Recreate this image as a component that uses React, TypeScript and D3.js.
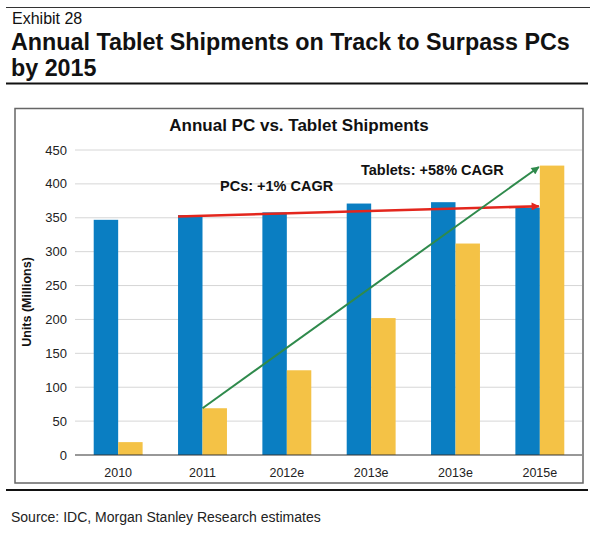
import React from 'react';
import * as d3 from 'd3';

const categories = ['2010', '2011', '2012e', '2013e', '2013e', '2015e'];
const pcShipments = [347, 354, 358, 371, 373, 365];
const tabletShipments = [19, 69, 125, 202, 312, 427];
const yTicks = [0, 50, 100, 150, 200, 250, 300, 350, 400, 450];
const series = ['PCs', 'Tablets'];
const seriesColors = ['#0A7EC2', '#F4C246'];

// trend arrows: start/end category index and value
const trendFromIndex = 1;
const trendToIndex = 5;
const pcTrend = [352, 367];
const tabletTrend = [69, 425];

const font = '"Liberation Sans", Arial, sans-serif';

const App = () => {
  const width = 590;
  const height = 536;
  const plot = { left: 76, right: 582, top: 150, bottom: 455 };

  const idx = categories.map((_, i) => i);
  const x = d3
    .scaleBand<number>()
    .domain(idx)
    .range([plot.left, plot.right])
    .paddingInner(0.42)
    .paddingOuter(0.21);

  const xSeries = d3
    .scaleBand<string>()
    .domain(series)
    .range([0, x.bandwidth()])
    .padding(0);

  const y = d3.scaleLinear().domain([0, 450]).range([plot.bottom, plot.top]);

  const values = [pcShipments, tabletShipments];
  const center = (i: number) => (x(i) ?? 0) + x.bandwidth() / 2;

  const line = d3
    .line<[number, number]>()
    .x((d) => d[0])
    .y((d) => y(d[1]));

  const redPts: [number, number][] = [
    [x(trendFromIndex) ?? 0, pcTrend[0]],
    [center(trendToIndex) - 1, pcTrend[1]],
  ];
  const greenPts: [number, number][] = [
    [center(trendFromIndex), tabletTrend[0]],
    [center(trendToIndex) - 1, tabletTrend[1]],
  ];

  return (
    <svg
      width={width}
      height={height}
      style={{ position: 'absolute', left: 0, top: 0, background: '#fff' }}
      fontFamily={font}
    >
      <defs>
        <marker
          id="arrRed"
          viewBox="0 0 10 10"
          refX="9"
          refY="5"
          markerWidth="9"
          markerHeight="8"
          markerUnits="userSpaceOnUse"
          orient="auto"
        >
          <path d="M0,0L10,5L0,10z" fill="#E3261D" />
        </marker>
        <marker
          id="arrGreen"
          viewBox="0 0 10 10"
          refX="9"
          refY="5"
          markerWidth="9"
          markerHeight="8"
          markerUnits="userSpaceOnUse"
          orient="auto"
        >
          <path d="M0,0L10,5L0,10z" fill="#2F8A4C" />
        </marker>
      </defs>

      {/* header */}
      <line x1={6} x2={590} y1={7.5} y2={7.5} stroke="#333" strokeWidth={1} />
      <text x={12} y={24} fontSize={16} fill="#111">
        Exhibit 28
      </text>
      <text x={11} y={50} fontSize={23.3} fontWeight="bold" fill="#111">
        Annual Tablet Shipments on Track to Surpass PCs
      </text>
      <text x={11} y={76} fontSize={23.3} fontWeight="bold" fill="#111">
        by 2015
      </text>
      <line x1={6} x2={588} y1={83.5} y2={83.5} stroke="#111" strokeWidth={2} />

      {/* chart frame */}
      <rect x={15} y={108.5} width={568} height={374.5} fill="none" stroke="#666" strokeWidth={1.5} />
      <text x={299} y={131} fontSize={17} fontWeight="bold" textAnchor="middle" fill="#111">
        Annual PC vs. Tablet Shipments
      </text>

      {/* gridlines + y ticks */}
      {yTicks.map((t) => (
        <g key={t}>
          {t > 0 && (
            <line x1={plot.left - 1} x2={plot.right} y1={y(t)} y2={y(t)} stroke="#D6D6D6" strokeWidth={1} />
          )}
          <text x={67} y={y(t)} dy="0.35em" fontSize={13} textAnchor="end" fill="#222">
            {t}
          </text>
        </g>
      ))}
      <text
        transform={`translate(31,302) rotate(-90)`}
        fontSize={12.5}
        fontWeight="bold"
        textAnchor="middle"
        fill="#111"
      >
        Units (Millions)
      </text>

      {/* bars */}
      {idx.map((i) =>
        series.map((s, si) => (
          <rect
            key={`${i}-${s}`}
            x={(x(i) ?? 0) + (xSeries(s) ?? 0)}
            y={y(values[si][i])}
            width={xSeries.bandwidth()}
            height={y(0) - y(values[si][i])}
            fill={seriesColors[si]}
          />
        )),
      )}

      {/* baseline axis */}
      <line x1={plot.left - 1} x2={plot.right} y1={y(0)} y2={y(0)} stroke="#333" strokeWidth={1.2} />
      {idx.map((i) => (
        <text key={i} x={center(i)} y={477} fontSize={12.5} textAnchor="middle" fill="#222">
          {categories[i]}
        </text>
      ))}

      {/* trend arrows */}
      <path d={line(redPts) ?? ''} fill="none" stroke="#E3261D" strokeWidth={2.5} markerEnd="url(#arrRed)" />
      <path d={line(greenPts) ?? ''} fill="none" stroke="#2F8A4C" strokeWidth={2} markerEnd="url(#arrGreen)" />
      <text x={220} y={191} fontSize={14.5} fontWeight="bold" fill="#111">
        PCs: +1% CAGR
      </text>
      <text x={361} y={175} fontSize={14.5} fontWeight="bold" fill="#111">
        Tablets: +58% CAGR
      </text>

      {/* footer */}
      <line x1={6} x2={588} y1={490} y2={490} stroke="#111" strokeWidth={2} />
      <text x={11} y={522} fontSize={14} fill="#222">
        Source: IDC, Morgan Stanley Research estimates
      </text>
    </svg>
  );
};

export default App;
